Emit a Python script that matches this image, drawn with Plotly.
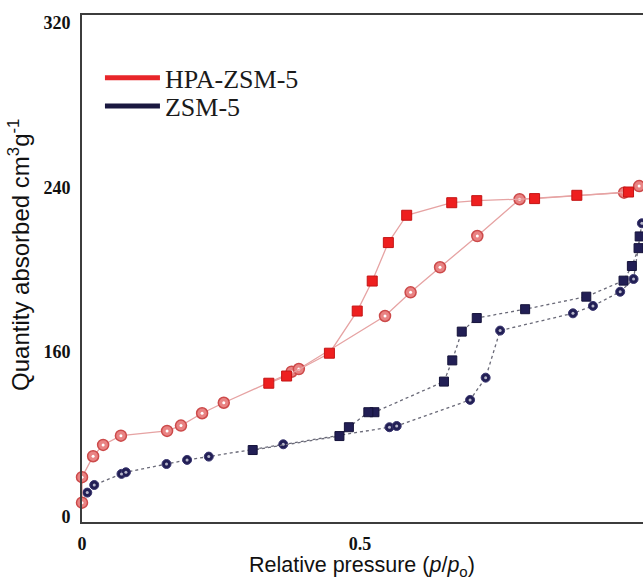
import plotly.graph_objects as go

# ---- data ----
hpa_ads_x = [0.0, 0.0, 0.020, 0.038, 0.070, 0.153, 0.178, 0.216, 0.255, 0.377, 0.390,
             0.545, 0.591, 0.644, 0.711, 0.787, 0.975, 1.002]
hpa_ads_y = [86.7, 99.1, 109.3, 114.8, 119.3, 121.6, 124.2, 130.2, 135.3, 150.4, 151.7,
             177.5, 189.0, 201.2, 216.4, 234.3, 237.5, 240.7]

hpa_des_x = [0.983, 0.890, 0.814, 0.710, 0.665, 0.584, 0.551, 0.522, 0.495, 0.445, 0.368, 0.336]
hpa_des_y = [237.8, 236.2, 234.6, 233.6, 232.6, 226.5, 213.2, 194.5, 179.9, 159.4, 148.3, 144.8]

zsm_ads_x = [0.0095, 0.022, 0.071, 0.079, 0.152, 0.189, 0.228, 0.362, 0.553, 0.566,
             0.698, 0.726, 0.752, 0.883, 0.919, 0.968, 0.992, 1.007]
zsm_ads_y = [91.6, 95.3, 100.7, 101.5, 105.5, 107.5, 109.1, 115.1, 123.4, 124.0,
             136.7, 147.5, 170.4, 178.8, 182.4, 189.3, 195.5, 222.6]

zsm_des_x = [1.003, 1.001, 0.989, 0.974, 0.907, 0.797, 0.710, 0.683, 0.666, 0.651,
             0.526, 0.515, 0.480, 0.463, 0.307]
zsm_des_y = [216.2, 210.5, 201.8, 194.7, 186.9, 180.8, 176.5, 169.9, 155.9, 145.6,
             130.7, 130.7, 123.4, 119.1, 112.3]

y_tick_vals = [80, 160, 240, 320]
y_tick_text = ["0", "160", "240", "320"]
x_tick_vals = [0, 0.5]
x_tick_text = ["0", "0.5"]

series_names = ["HPA-ZSM-5", "ZSM-5"]

RED_LINE = "#e6a3a3"
RED_SQ = "#ee1f1f"
RED_CIRC = "#e98383"
NAVY = "#221f55"
NAVY_LINE = "#6a6a78"
SERIF = "Liberation Serif, Times New Roman, serif"
SANS = "Liberation Sans Narrow, Arial Narrow, Liberation Sans, Arial, sans-serif"

fig = go.Figure()

# ZSM-5 adsorption (circles)
fig.add_trace(go.Scatter(
    x=zsm_ads_x, y=zsm_ads_y, mode="lines+markers", showlegend=False, cliponaxis=False,
    line=dict(color=NAVY_LINE, width=1.3, dash="dot"),
    marker=dict(symbol="circle", size=9, color=NAVY, line=dict(color="#3a3670", width=1))))
fig.add_trace(go.Scatter(
    x=zsm_ads_x, y=zsm_ads_y, mode="markers", showlegend=False, cliponaxis=False, hoverinfo="skip",
    marker=dict(symbol="circle", size=3, color="#b8b8cc")))
# ZSM-5 desorption (squares)
fig.add_trace(go.Scatter(
    x=zsm_des_x, y=zsm_des_y, mode="lines+markers", showlegend=False, cliponaxis=False,
    line=dict(color=NAVY_LINE, width=1.3, dash="dot"),
    marker=dict(symbol="square", size=9, color=NAVY, line=dict(color="#15133a", width=1))))

# HPA-ZSM-5 adsorption (circles)
fig.add_trace(go.Scatter(
    x=hpa_ads_x, y=hpa_ads_y, mode="lines+markers", showlegend=False, cliponaxis=False,
    line=dict(color=RED_LINE, width=1.3),
    marker=dict(symbol="circle", size=11, color=RED_CIRC, line=dict(color="#cc4a4a", width=1.5))))
fig.add_trace(go.Scatter(
    x=hpa_ads_x, y=hpa_ads_y, mode="markers", showlegend=False, cliponaxis=False, hoverinfo="skip",
    marker=dict(symbol="circle", size=3, color="#ffffff")))
# HPA-ZSM-5 desorption (squares)
fig.add_trace(go.Scatter(
    x=hpa_des_x, y=hpa_des_y, mode="lines+markers", showlegend=False, cliponaxis=False,
    line=dict(color=RED_LINE, width=1.3),
    marker=dict(symbol="square", size=10, color=RED_SQ, line=dict(color="#c41414", width=1))))

# legend entries
fig.add_trace(go.Scatter(x=[None], y=[None], mode="lines", name=series_names[0], legend="legend",
                         line=dict(color="#e8262a", width=5)))
fig.add_trace(go.Scatter(x=[None], y=[None], mode="lines", name=series_names[1], legend="legend2",
                         line=dict(color="#1a1840", width=5)))

legend_common = dict(xanchor="left", yanchor="middle", bgcolor="rgba(0,0,0,0)", itemwidth=55,
                     font=dict(family=SERIF, size=26, color="#1a1a1a"))

fig.update_layout(
    width=643, height=581,
    margin=dict(l=82, r=0, t=15, b=59),
    paper_bgcolor="white", plot_bgcolor="white",
    showlegend=True,
    legend=dict(x=0.032, y=0.876, **legend_common),
    legend2=dict(x=0.032, y=0.8205, **legend_common),
    xaxis=dict(range=[0, 1.009], showgrid=False, zeroline=False,
               showline=True, linecolor="#3c3c3c", linewidth=2, mirror=True,
               tickvals=x_tick_vals, ticktext=["<b>%s</b>" % t for t in x_tick_text], ticks="",
               ticklabelstandoff=4,
               tickfont=dict(family=SERIF, size=18, color="#111")),
    yaxis=dict(range=[77.3, 323.9], showgrid=False, zeroline=False,
               showline=True, linecolor="#3c3c3c", linewidth=2,
               tickvals=y_tick_vals, ticktext=["<b>%s</b>" % t for t in y_tick_text], ticks="",
               ticklabelstandoff=6,
               tickfont=dict(family=SERIF, size=18, color="#111")),
    annotations=[
        dict(text="Relative pressure (<i>p</i>/<i>p</i><sub>o</sub>)", xref="paper", yref="paper",
             x=0.499, y=-0.087, xanchor="center", yanchor="middle", showarrow=False,
             font=dict(family=SANS, size=21.5, color="#111")),
        dict(text="Quantity absorbed cm<sup>3</sup>g<sup>-1</sup>", xref="paper", yref="paper",
             x=-0.112, y=0.527, xanchor="center", yanchor="middle", textangle=-90, showarrow=False,
             font=dict(family=SANS, size=24, color="#111")),
    ],
)

fig.write_html("out.html", config={"displayModeBar": False},
               post_script="document.body.style.margin='0';document.body.style.overflow='hidden';")
